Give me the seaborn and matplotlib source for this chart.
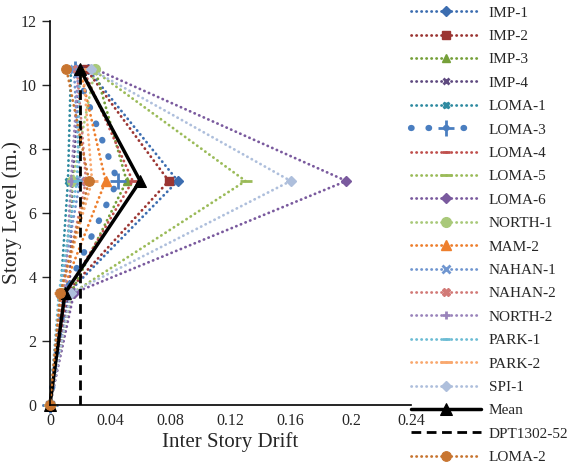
import numpy as np
import pandas as pd
import matplotlib
matplotlib.use("Agg")
import matplotlib.pyplot as plt
import seaborn as sns

# story levels (m.)
niveles = [0, 3.5, 7, 10.5]

# inter story drift per record
imp_1 = [0, 0.012, 0.085, 0.025]
imp_2 = [0, 0.011, 0.079, 0.024]
imp_3 = [0, 0.014, 0.051, 0.030]
imp_4 = [0, 0.013, 0.015, 0.020]
loma_1 = [0, 0.007, 0.012, 0.014]
loma_3 = [0, 0.010, 0.045, 0.017]
loma_4 = [0, 0.011, 0.055, 0.022]
loma_5 = [0, 0.015, 0.130, 0.028]
loma_6 = [0, 0.016, 0.197, 0.030]
north_1 = [0, 0.009, 0.015, 0.030]
mam_2 = [0, 0.008, 0.037, 0.020]
nahan_1 = [0, 0.007, 0.020, 0.016]
nahan_2 = [0, 0.008, 0.024, 0.018]
north_2 = [0, 0.010, 0.014, 0.019]
park_1 = [0, 0.006, 0.018, 0.020]
park_2 = [0, 0.007, 0.028, 0.022]
spi_1 = [0, 0.014, 0.160, 0.027]
media = [0, 0.010, 0.060, 0.020]
dpt = [0.02, 0.02, 0.02, 0.02]
loma_2 = [0, 0.007, 0.026, 0.011]

sns.set_style("white")
plt.rcParams['font.family'] = ['Liberation Serif', 'DejaVu Serif']

fig = plt.figure(figsize=(5.67, 4.66), dpi=100)
ax = fig.add_axes([0.088, 0.131, 0.637, 0.824])

punct = (0, (0.1, 1.7))
serii = [
    ("IMP-1", imp_1, "#3c6db0", "D", 5),
    ("IMP-2", imp_2, "#9b3532", "s", 6),
    ("IMP-3", imp_3, "#76a03a", "^", 6),
    ("IMP-4", imp_4, "#5f4a80", "x", 5),
    ("LOMA-1", loma_1, "#2e8aa0", "X", 5),
    ("LOMA-3", loma_3, "#4a7ec0", "+", 12),
    ("LOMA-4", loma_4, "#c0504d", "_", 6),
    ("LOMA-5", loma_5, "#9bbb59", "_", 9),
    ("LOMA-6", loma_6, "#7a5a9e", "D", 5),
    ("NORTH-1", north_1, "#a9c97a", "o", 7),
    ("MAM-2", mam_2, "#ee7f2d", "^", 7),
    ("NAHAN-1", nahan_1, "#7096d0", "x", 6),
    ("NAHAN-2", nahan_2, "#d27a77", "X", 6),
    ("NORTH-2", north_2, "#9a84bb", "+", 6),
    ("PARK-1", park_1, "#6cbcd4", "_", 6),
    ("PARK-2", park_2, "#f9a86e", "_", 8),
    ("SPI-1", spi_1, "#aebfdc", "D", 5),
]

for nume, vals, col, mk, ms in serii:
    if nume == "LOMA-3":
        ls, lw = (0, (0.1, 2.7)), 4.5
    else:
        ls, lw = punct, 2
    sns.lineplot(x=vals, y=niveles, sort=False, ax=ax, color=col, label=nume,
                 linestyle=ls, linewidth=lw, marker=mk, markersize=ms,
                 markeredgewidth=2 if mk in "x+_" else 1, markeredgecolor=col,
                 dash_capstyle="round", estimator=None, clip_on=False)

sns.lineplot(x=media, y=niveles, sort=False, ax=ax, color="black", label="Mean",
             linewidth=2.5, marker="^", markersize=8, markeredgecolor="black",
             estimator=None, clip_on=False)
sns.lineplot(x=dpt, y=[0, 0, 0, 10.5], sort=False, ax=ax, color="black", label="DPT1302-52",
             linewidth=2, linestyle=(0, (3.5, 2)), estimator=None)
sns.lineplot(x=loma_2, y=niveles, sort=False, ax=ax, color="#c87530", label="LOMA-2",
             linestyle=punct, linewidth=2, marker="o", markersize=7,
             markeredgecolor="#c87530", dash_capstyle="round", estimator=None, clip_on=False)

ax.set_xlim(0, 0.24)
ax.set_ylim(0, 12)
ax.set_xticks([0, 0.04, 0.08, 0.12, 0.16, 0.2, 0.24])
ax.set_xticklabels(["0", "0.04", "0.08", "0.12", "0.16", "0.2", "0.24"])
ax.set_yticks(range(0, 13, 2))
ax.tick_params(axis="x", direction="in", length=5, width=1, labelsize=11.5, pad=6)
ax.tick_params(axis="y", direction="out", length=6, width=1, labelsize=11.5, left=True)
for s in ["top", "right"]:
    ax.spines[s].set_visible(False)
for s in ["left", "bottom"]:
    ax.spines[s].set_color("black")
    ax.spines[s].set_linewidth(1.2)
ax.set_xlabel("Inter Story Drift", fontsize=15, labelpad=2)
ax.set_ylabel("Story Level (m.)", fontsize=15.5)
ax.yaxis.set_label_coords(-0.076, 0.5)

ax.legend(loc="upper left", bbox_to_anchor=(0.982, 1.055), frameon=False, fontsize=11,
          handlelength=4.6, handletextpad=0.5, labelspacing=0.635, borderaxespad=0)

fig.savefig("out.png", dpi=100)
